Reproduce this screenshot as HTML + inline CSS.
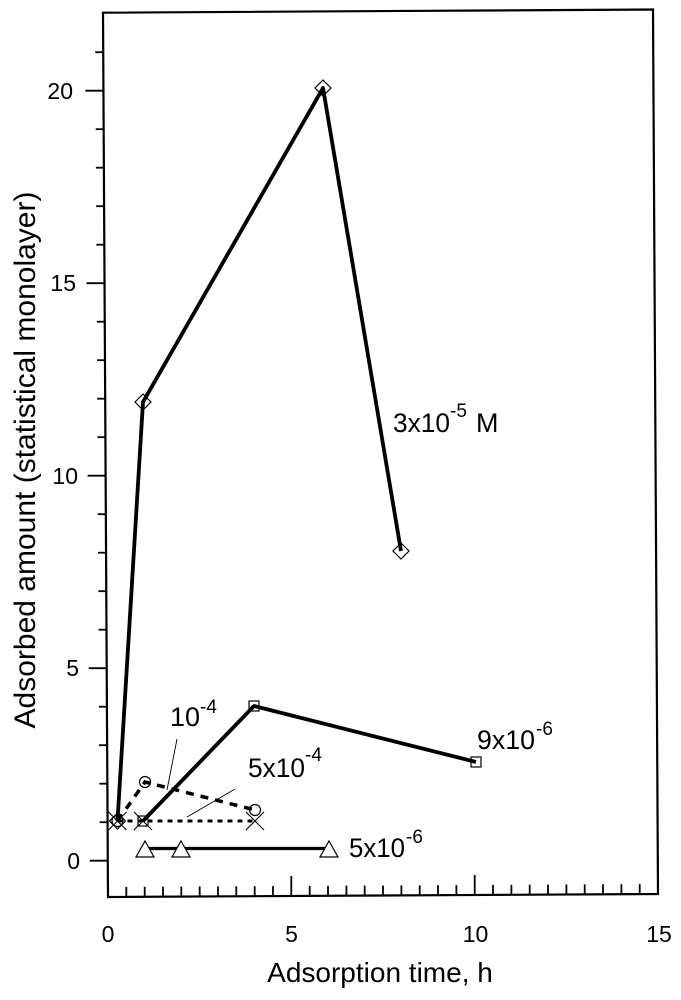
<!DOCTYPE html>
<html>
<head>
<meta charset="utf-8">
<style>
html,body{margin:0;padding:0;background:#fff;}
svg{display:block;}
text{font-family:"Liberation Sans",Arial,sans-serif;fill:#000;}
</style>
</head>
<body>
<svg width="681" height="1000" viewBox="0 0 681 1000" xmlns="http://www.w3.org/2000/svg">
<rect x="0" y="0" width="681" height="1000" fill="#fff"/>

<!-- frame -->
<path d="M103,12.7 L653,9.5 L658,894 L108,897 Z" fill="none" stroke="#000" stroke-width="2.2"/>

<!-- y ticks (outward, left) -->
<g stroke="#000" stroke-width="1.8">
<line x1="89.8" y1="860.7" x2="107.8" y2="860.7"/>
<line x1="99.6" y1="822.2" x2="107.6" y2="822.2"/>
<line x1="99.4" y1="783.7" x2="107.4" y2="783.7"/>
<line x1="99.1" y1="745.2" x2="107.1" y2="745.2"/>
<line x1="98.9" y1="706.7" x2="106.9" y2="706.7"/>
<line x1="88.7" y1="668.2" x2="106.7" y2="668.2"/>
<line x1="98.5" y1="629.7" x2="106.5" y2="629.7"/>
<line x1="98.3" y1="591.2" x2="106.3" y2="591.2"/>
<line x1="98.1" y1="552.7" x2="106.1" y2="552.7"/>
<line x1="97.8" y1="514.2" x2="105.8" y2="514.2"/>
<line x1="87.6" y1="475.7" x2="105.6" y2="475.7"/>
<line x1="97.4" y1="437.2" x2="105.4" y2="437.2"/>
<line x1="97.2" y1="398.7" x2="105.2" y2="398.7"/>
<line x1="97.0" y1="360.2" x2="105.0" y2="360.2"/>
<line x1="96.8" y1="321.7" x2="104.8" y2="321.7"/>
<line x1="86.5" y1="283.2" x2="104.5" y2="283.2"/>
<line x1="96.3" y1="244.7" x2="104.3" y2="244.7"/>
<line x1="96.1" y1="206.2" x2="104.1" y2="206.2"/>
<line x1="95.9" y1="167.7" x2="103.9" y2="167.7"/>
<line x1="95.7" y1="129.2" x2="103.7" y2="129.2"/>
<line x1="85.4" y1="90.7" x2="103.4" y2="90.7"/>
<line x1="95.2" y1="52.2" x2="103.2" y2="52.2"/>
</g>

<!-- x ticks (inward, up) -->
<g stroke="#000" stroke-width="1.8">
<line x1="126.3" y1="896.9" x2="126.3" y2="886.9"/>
<line x1="144.7" y1="896.8" x2="144.7" y2="886.8"/>
<line x1="163" y1="896.7" x2="163" y2="886.7"/>
<line x1="181.3" y1="896.6" x2="181.3" y2="886.6"/>
<line x1="199.7" y1="896.5" x2="199.7" y2="886.5"/>
<line x1="218" y1="896.4" x2="218" y2="886.4"/>
<line x1="236.3" y1="896.3" x2="236.3" y2="886.3"/>
<line x1="254.7" y1="896.2" x2="254.7" y2="886.2"/>
<line x1="273" y1="896.1" x2="273" y2="886.1"/>
<line x1="291.3" y1="896.0" x2="291.3" y2="876.0"/>
<line x1="309.7" y1="895.9" x2="309.7" y2="885.9"/>
<line x1="328" y1="895.8" x2="328" y2="885.8"/>
<line x1="346.4" y1="895.7" x2="346.4" y2="885.7"/>
<line x1="364.7" y1="895.6" x2="364.7" y2="885.6"/>
<line x1="383" y1="895.5" x2="383" y2="885.5"/>
<line x1="401.4" y1="895.4" x2="401.4" y2="885.4"/>
<line x1="419.7" y1="895.3" x2="419.7" y2="885.3"/>
<line x1="438" y1="895.2" x2="438" y2="885.2"/>
<line x1="456.4" y1="895.1" x2="456.4" y2="885.1"/>
<line x1="474.7" y1="895.0" x2="474.7" y2="875.0"/>
<line x1="493" y1="894.9" x2="493" y2="884.9"/>
<line x1="511.4" y1="894.8" x2="511.4" y2="884.8"/>
<line x1="529.7" y1="894.7" x2="529.7" y2="884.7"/>
<line x1="548" y1="894.6" x2="548" y2="884.6"/>
<line x1="566.4" y1="894.5" x2="566.4" y2="884.5"/>
<line x1="584.7" y1="894.4" x2="584.7" y2="884.4"/>
<line x1="603" y1="894.3" x2="603" y2="884.3"/>
<line x1="621.4" y1="894.2" x2="621.4" y2="884.2"/>
<line x1="639.7" y1="894.1" x2="639.7" y2="884.1"/>
</g>

<!-- tick labels -->
<g font-size="23">
<text x="73" y="99" text-anchor="end">20</text>
<text x="76" y="291" text-anchor="end">15</text>
<text x="78" y="484" text-anchor="end">10</text>
<text x="79" y="676" text-anchor="end">5</text>
<text x="80" y="869" text-anchor="end">0</text>
<text x="108" y="942" text-anchor="middle">0</text>
<text x="291.5" y="942" text-anchor="middle">5</text>
<text x="475.5" y="942" text-anchor="middle">10</text>
<text x="659" y="942" text-anchor="middle">15</text>
</g>

<!-- axis titles -->
<text x="380" y="982" font-size="28" text-anchor="middle">Adsorption time, h</text>
<text transform="translate(35,460) rotate(-90)" font-size="30" text-anchor="middle">Adsorbed amount (statistical monolayer)</text>

<!-- series 3x10^-5 M : diamonds, thick solid -->
<polyline points="117.5,821 143,402 323,88 401,551" fill="none" stroke="#000" stroke-width="3.8" stroke-linejoin="round"/>
<g fill="none" stroke="#000" stroke-width="1.2">
<path d="M143,394 L151,402 L143,410 L135,402 Z"/>
<path d="M323,80 L331,88 L323,96 L315,88 Z"/>
<path d="M401,543 L409,551 L401,559 L393,551 Z"/>
<path d="M117.5,813 L125.5,821 L117.5,829 L109.5,821 Z"/>
</g>

<!-- series 9x10^-6 : squares, thick solid -->
<polyline points="143,821 254,706 476,762" fill="none" stroke="#000" stroke-width="3.8" stroke-linejoin="round"/>
<g fill="none" stroke="#000" stroke-width="1.2">
<rect x="138" y="816" width="10" height="10"/>
<rect x="249" y="701" width="10" height="10"/>
<rect x="471" y="757" width="10" height="10"/>
</g>

<!-- series 10^-4 : circles, dashed -->
<polyline points="117.5,821 145,782 255,810" fill="none" stroke="#000" stroke-width="3.5" stroke-dasharray="8,7"/>
<g fill="none" stroke="#000" stroke-width="1.2">
<circle cx="145" cy="782" r="5.5"/>
<circle cx="255" cy="810" r="5.5"/>
<circle cx="117.5" cy="821" r="5.5"/>
</g>

<!-- series 5x10^-4 : x marks, dotted -->
<polyline points="117.5,821 143,821 255,821" fill="none" stroke="#000" stroke-width="3" stroke-dasharray="5,5"/>
<g stroke="#000" stroke-width="1.1">
<path d="M108.5,812 L126.5,830 M126.5,812 L108.5,830"/>
<path d="M134,812 L152,830 M152,812 L134,830"/>
<path d="M246,812 L264,830 M264,812 L246,830"/>
</g>

<!-- series 5x10^-6 : triangles, solid -->
<line x1="145" y1="848.5" x2="329" y2="848.5" stroke="#000" stroke-width="3.2"/>
<g fill="#fff" stroke="#000" stroke-width="1.2">
<path d="M145,841 L154,857 L136,857 Z"/>
<path d="M181,841 L190,857 L172,857 Z"/>
<path d="M329,841 L338,857 L320,857 Z"/>
</g>

<!-- leader lines -->
<g stroke="#000" stroke-width="0.9">
<line x1="177" y1="739" x2="167" y2="790"/>
<line x1="235" y1="789" x2="187" y2="817"/>
</g>

<!-- series labels -->
<g font-size="27">
<text x="393" y="432" textLength="57" lengthAdjust="spacingAndGlyphs">3x10</text>
<text x="450" y="417" font-size="19">-5</text>
<text x="476" y="432">M</text>

<text x="170" y="726" textLength="30" lengthAdjust="spacingAndGlyphs">10</text>
<text x="200" y="713" font-size="19">-4</text>

<text x="248" y="777" textLength="57" lengthAdjust="spacingAndGlyphs">5x10</text>
<text x="305" y="761" font-size="19">-4</text>

<text x="477" y="749" textLength="58" lengthAdjust="spacingAndGlyphs">9x10</text>
<text x="536" y="735" font-size="19">-6</text>

<text x="349" y="857" textLength="56" lengthAdjust="spacingAndGlyphs">5x10</text>
<text x="406" y="843" font-size="19">-6</text>
</g>
</svg>
</body>
</html>
